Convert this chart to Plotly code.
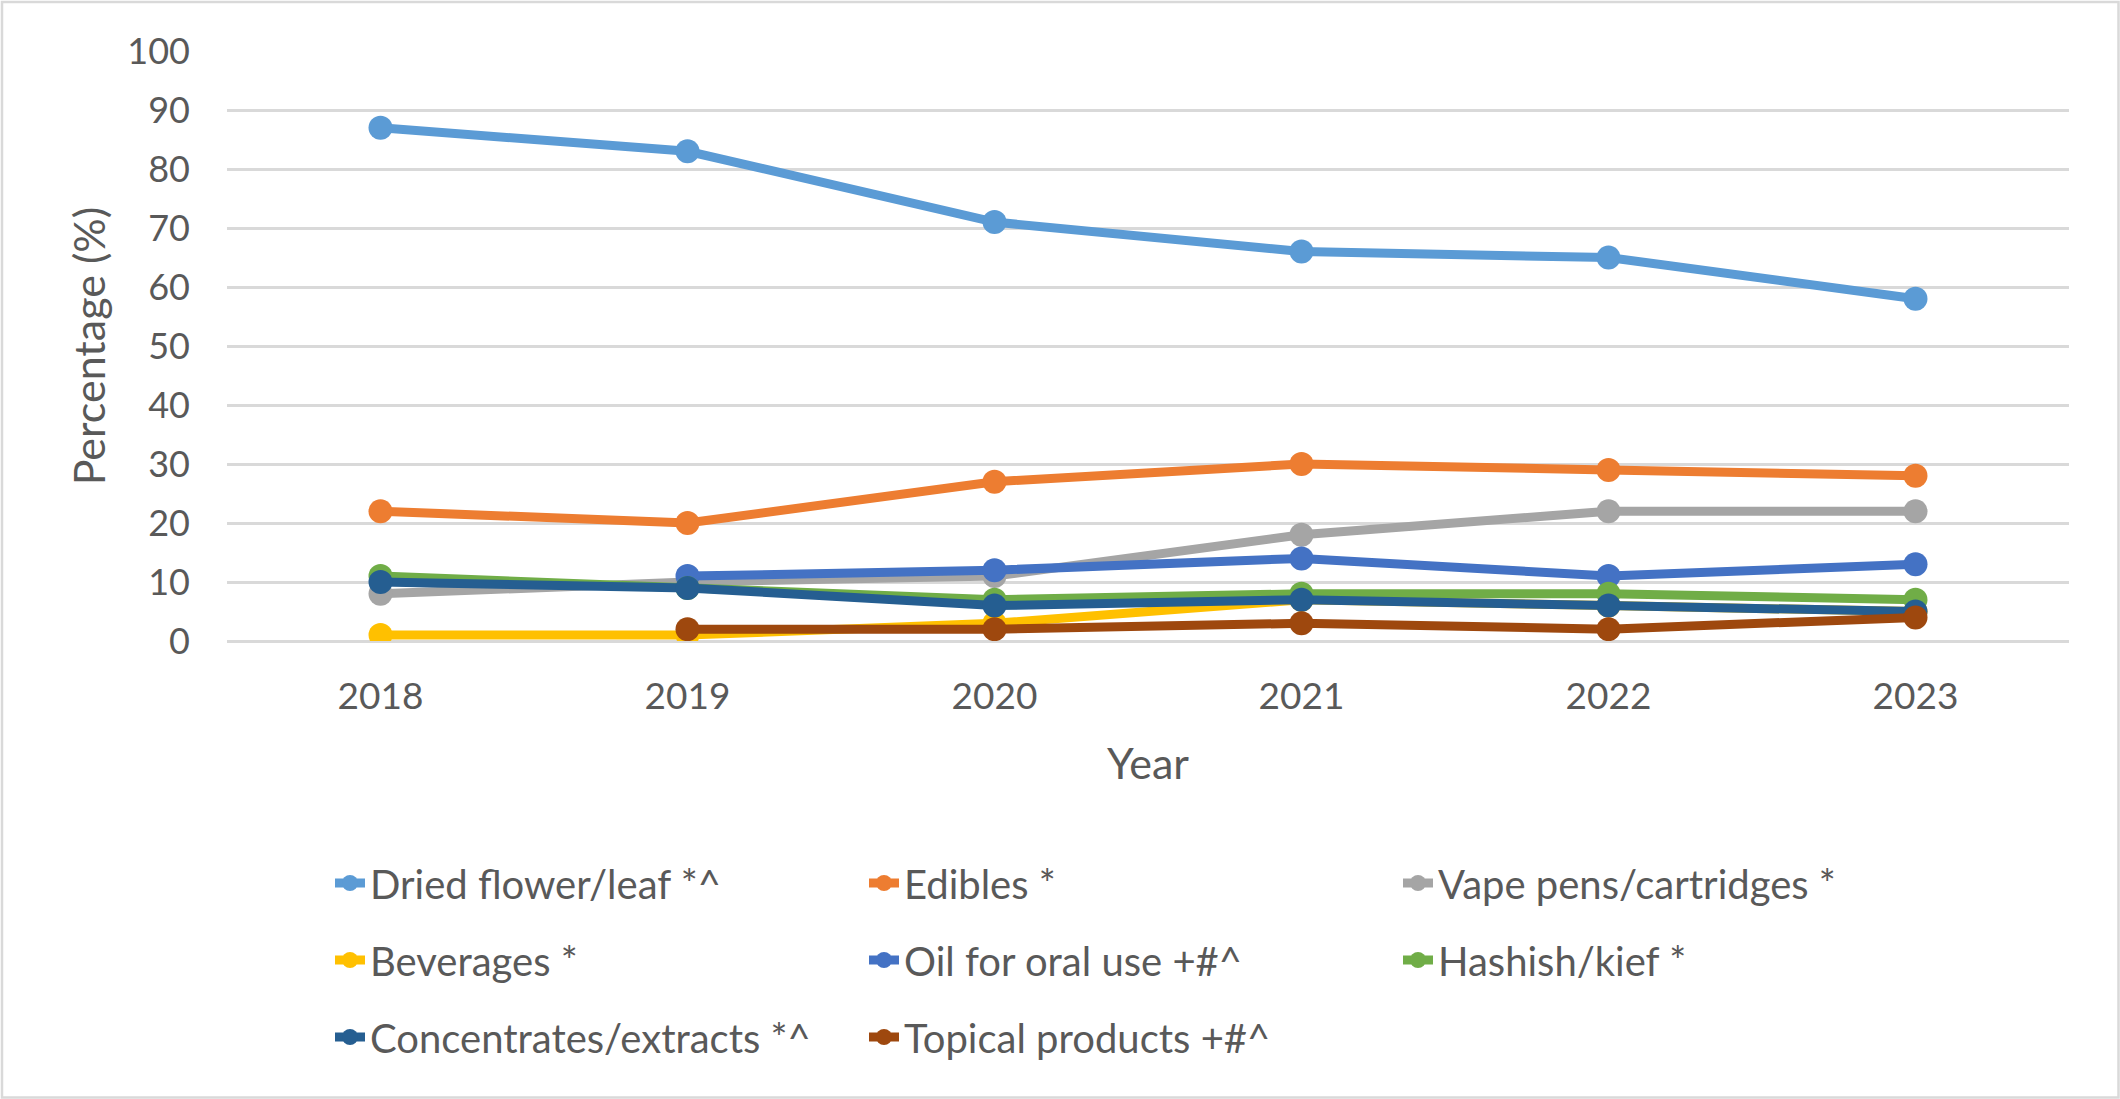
import plotly.graph_objects as go

years = [2018, 2019, 2020, 2021, 2022, 2023]

dried = [87, 83, 71, 66, 65, 58]
edibles = [22, 20, 27, 30, 29, 28]
vape = [8, 10, 11, 18, 22, 22]
beverages = [1, 1, 3, 7, 6, 5]
oil = [None, 11, 12, 14, 11, 13]
hashish = [11, 9, 7, 8, 8, 7]
concentrates = [10, 9, 6, 7, 6, 5]
topical = [None, 2, 2, 3, 2, 4]

series = [
    ("Dried flower/leaf *^", dried, "#5B9BD5", "legend"),
    ("Edibles *", edibles, "#ED7D31", "legend"),
    ("Vape pens/cartridges *", vape, "#A5A5A5", "legend"),
    ("Beverages *", beverages, "#FFC000", "legend2"),
    ("Oil for oral use +#^", oil, "#4472C4", "legend2"),
    ("Hashish/kief *", hashish, "#70AD47", "legend2"),
    ("Concentrates/extracts *^", concentrates, "#255E91", "legend3"),
    ("Topical products +#^", topical, "#9E480E", "legend3"),
]

FONT = "Lato"
TXT = "#595959"

fig = go.Figure()
for name, vals, color, lg in series:
    fig.add_trace(go.Scatter(
        x=years, y=vals, name=name, mode="lines+markers",
        line=dict(color=color, width=9),
        marker=dict(color=color, size=24),
        legend=lg,
    ))

W, H = 2120, 1099
L, R, T, B = 227, 51, 51, 458
pw, ph = W - L - R, H - T - B

def ly(p):
    return (H - B - p) / ph

legend_common = dict(
    orientation="h", xanchor="left", x=(330 - L) / pw, yanchor="middle",
    font=dict(family=FONT, size=40, color=TXT),
    entrywidth=489, entrywidthmode="pixels",
    bgcolor="rgba(0,0,0,0)", itemsizing="trace",
)

fig.update_layout(
    width=W, height=H,
    margin=dict(l=L, r=R, t=T, b=B),
    paper_bgcolor="white", plot_bgcolor="white",
    font=dict(family=FONT, color=TXT),
    legend=dict(**legend_common, y=ly(883)),
    legend2=dict(**legend_common, y=ly(960)),
    legend3=dict(**legend_common, y=ly(1037)),
    xaxis=dict(
        range=[2017.5, 2023.5], tickmode="array", tickvals=years,
        ticktext=[str(y) for y in years],
        showgrid=False, zeroline=False, showline=False,
        tickfont=dict(family=FONT, size=37, color=TXT),
        ticklabelstandoff=30,
        title=dict(text="Year", font=dict(family=FONT, size=43, color=TXT), standoff=32),
    ),
    yaxis=dict(
        range=[0, 100], dtick=10, tick0=0,
        showgrid=True, gridcolor="#D9D9D9", gridwidth=2.5,
        zeroline=True, zerolinecolor="#D9D9D9", zerolinewidth=2.5,
        showline=False,
        tickfont=dict(family=FONT, size=36, color=TXT),
        ticklabelstandoff=36,
        title=dict(text="Percentage (%)", font=dict(family=FONT, size=43, color=TXT), standoff=8),
    ),
)

fig.add_shape(
    type="rect", xref="paper", yref="paper",
    x0=(-L + 2) / pw, x1=1 + (R - 1.5) / pw,
    y0=(-B + 1.5) / ph, y1=1 + (T - 2) / ph,
    line=dict(color="#D9D9D9", width=2.5), fillcolor="rgba(0,0,0,0)", layer="below",
)

fig.write_html("out.html", config={"displayModeBar": False},
               post_script="document.body.style.margin='0px';")
